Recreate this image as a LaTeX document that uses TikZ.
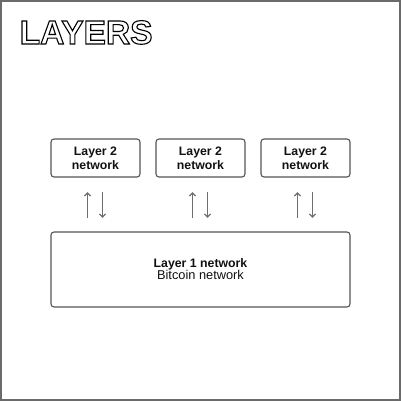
\documentclass[tikz,border=0pt]{standalone}
\usepackage{fontspec}
\setmainfont{Liberation Sans}
\usetikzlibrary{arrows.meta}
\definecolor{frame}{HTML}{6A6A6A}
\definecolor{boxline}{HTML}{555555}
\definecolor{arrowc}{HTML}{6E6E6E}
\definecolor{txt}{HTML}{111111}
\newcommand{\outlinetext}[1]{\special{pdf:literal 1 Tr 1.1 w 0 G}#1\special{pdf:literal 0 Tr}}
\tikzset{
  l2box/.style={draw=boxline, line width=1.1pt, rounded corners=3pt, minimum width=89pt, minimum height=38pt, inner sep=0pt, align=center, font=\fontsize{12.3}{14}\selectfont\bfseries, text=txt},
  l1box/.style={draw=boxline, line width=1.1pt, rounded corners=3pt, minimum width=299pt, minimum height=75pt, inner sep=0pt, align=center, text=txt},
  flowarrow/.style={draw=arrowc, line width=1.2pt, -{Straight Barb[length=3.2pt,width=6pt]}}
}
\begin{document}
\begin{tikzpicture}[x=1pt,y=-1pt]
\useasboundingbox (0,0) rectangle (401,401);
\draw[frame, line width=2pt] (1,1) rectangle (400,400);
\node[l2box] (l2a) at (95.5,158) {Layer 2\\network};
\node[l2box] (l2b) at (200.5,158) {Layer 2\\network};
\node[l2box] (l2c) at (305.5,158) {Layer 2\\network};
\node[l1box] (l1) at (200.5,269.5) {{\fontsize{12.3}{14}\selectfont\bfseries Layer 1 network}\\{\fontsize{12.8}{14}\selectfont Bitcoin network}};
\foreach \n/\x in {a/95.5,b/200.5,c/305.5}{
  \coordinate (up\n s) at (\x-8,218);
  \coordinate (up\n e) at (\x-8,192);
  \coordinate (dn\n s) at (\x+7,192);
  \coordinate (dn\n e) at (\x+7,218);
  \draw[flowarrow] (up\n s) -- (up\n e);
  \draw[flowarrow] (dn\n s) -- (dn\n e);
}
\node[anchor=base west, inner sep=0pt, font=\fontsize{33.5}{33.5}\selectfont\bfseries] (title) at (19.5,44) {\outlinetext{LAYERS}};
\end{tikzpicture}
\end{document}
